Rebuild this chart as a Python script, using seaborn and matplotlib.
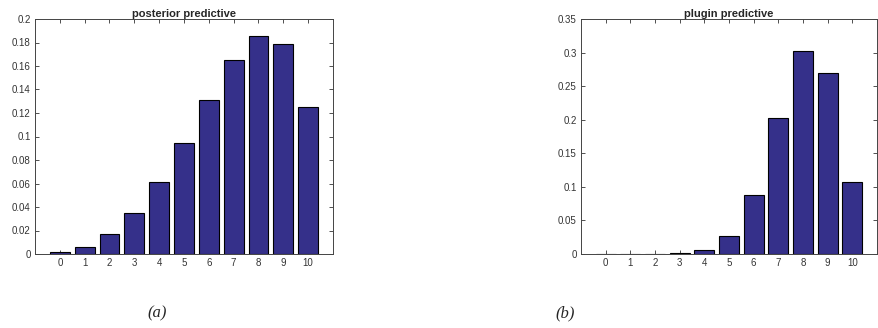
import matplotlib
matplotlib.use("Agg")
import matplotlib.pyplot as plt
import seaborn as sns
import pandas as pd

categories = list(range(11))
posterior = [0.0014, 0.0062, 0.0167, 0.0352, 0.061, 0.0945, 0.1313, 0.1648, 0.1858, 0.1787, 0.1251]
plugin = [0.00002, 0.0001, 0.0004, 0.0015, 0.0055, 0.0263, 0.0884, 0.2021, 0.3023, 0.2691, 0.1072]
titles = ["posterior predictive", "plugin predictive"]
panel_labels = ["(a)", "(b)"]
yticks_a = [0, 0.02, 0.04, 0.06, 0.08, 0.1, 0.12, 0.14, 0.16, 0.18, 0.2]
yticks_b = [0, 0.05, 0.1, 0.15, 0.2, 0.25, 0.3, 0.35]

sns.set_style("white")
plt.rcParams["font.family"] = ["Liberation Sans", "DejaVu Sans"]

W, H = 879, 328
fig = plt.figure(figsize=(W / 100, H / 100), dpi=100)

def ax_rect(x0, x1, y0, y1):
    return [x0 / W, 1 - y1 / H, (x1 - x0) / W, (y1 - y0) / H]

ax1 = fig.add_axes(ax_rect(35, 333, 19, 254))
ax2 = fig.add_axes(ax_rect(581, 877, 19, 254))

bar_color = "#35308a"
for ax, vals, title, yt in [(ax1, posterior, titles[0], yticks_a), (ax2, plugin, titles[1], yticks_b)]:
    df = pd.DataFrame({"k": categories, "p": vals})
    sns.barplot(data=df, x="k", y="p", order=categories, color=bar_color, saturation=1,
                width=0.8, edgecolor="black", linewidth=0.8, ax=ax)
    ax.set_xlim(-1, 11)
    ax.set_ylim(0, yt[-1])
    ax.set_yticks(yt)
    ax.set_yticklabels([("%g" % v) for v in yt])
    ax.set_xlabel("")
    ax.set_ylabel("")
    ax.set_title(title, fontsize=8, fontweight="bold", pad=1.5)
    ax.tick_params(direction="in", length=3, width=0.6, labelsize=7, colors="#333333",
                   top=True, right=True, bottom=True, left=True, pad=3)
    for s in ax.spines.values():
        s.set_visible(True)
        s.set_color("#444444")
        s.set_linewidth(0.7)

fig.text(157 / W, 1 - 313 / H, panel_labels[0], ha="center", va="center",
         fontsize=12, fontstyle="italic", family=["Liberation Serif", "DejaVu Serif"])
fig.text(565 / W, 1 - 313 / H, panel_labels[1], ha="center", va="center",
         fontsize=12, fontstyle="italic", family=["Liberation Serif", "DejaVu Serif"])

fig.savefig("out.png", dpi=100)
